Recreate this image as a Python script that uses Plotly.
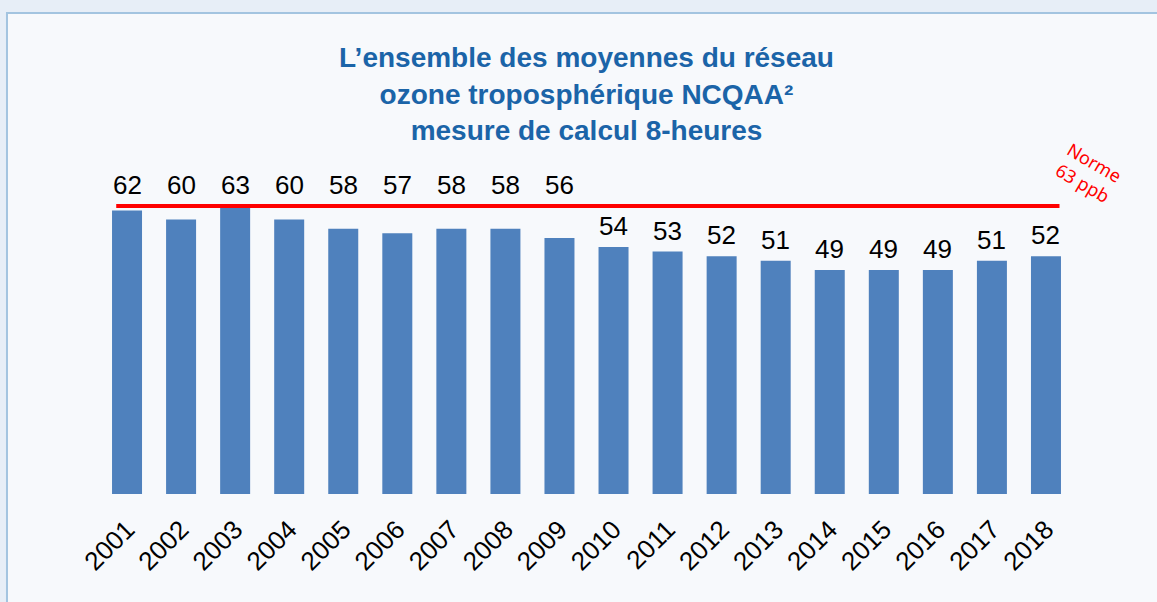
import plotly.graph_objects as go

years = [str(y) for y in range(2001, 2019)]
ozone_ppb = [62, 60, 63, 60, 58, 57, 58, 58, 56, 54, 53, 52, 51, 49, 49, 49, 51, 52]
norm_ppb = 63
norm_label = "Norme<br>63 ppb"
title_text = ("L’ensemble des moyennes du réseau<br>"
              "ozone troposphérique NCQAA²<br>"
              "mesure de calcul 8-heures")

font_main = "Arial, Liberation Sans, sans-serif"
bar_color = "#4f81bd"
title_color = "#1b64a8"
outer_bg = "#e7eef7"

fig = go.Figure()
fig.add_trace(go.Bar(x=years, y=ozone_ppb, marker=dict(color=bar_color, line=dict(width=0)),
                     hoverinfo="x+y"))

# light panel behind the chart (runs off the right and bottom edges)
fig.add_shape(type="rect", xref="paper", yref="paper",
              x0=-0.0956, x1=1.10, y0=-0.34, y1=1.402,
              fillcolor="#f7f9fc", line=dict(color="#a3c4e0", width=2), layer="below")

# norm line
fig.add_shape(type="line", xref="x", yref="y", x0=-0.2, x1=17.25, y0=norm_ppb, y1=norm_ppb,
              line=dict(color="#ff0000", width=4))

annotations = []
# value labels: the high ones are lifted above the norm line
# (annotations on a category axis use the category index)
for i, v in enumerate(ozone_ppb):
    y = norm_ppb if v > 55 else v
    annotations.append(dict(x=i, y=y, xref="x", yref="y", text=str(v), showarrow=False,
                            yanchor="middle", yshift=21,
                            font=dict(family=font_main, size=26, color="#000000")))

annotations.append(dict(x=1.016, y=norm_ppb, xref="paper", yref="y", text=norm_label,
                        xanchor="center", yanchor="middle",
                        showarrow=False, textangle=30, yshift=33,
                        font=dict(family="Noto Sans, Open Sans, sans-serif", size=18, color="#ff0000")))

fig.update_layout(
    width=1157, height=602,
    margin=dict(l=100, r=84, t=151, b=108),
    paper_bgcolor=outer_bg,
    plot_bgcolor="rgba(0,0,0,0)",
    bargap=0.445,
    showlegend=False,
    title=dict(text="<b>" + title_text + "</b>", x=0.5, xref="paper", xanchor="center",
               y=0.888, yref="container", yanchor="top",
               font=dict(family=font_main, size=28, color=title_color)),
    xaxis=dict(type="category", range=[-0.5, len(years) - 0.5], autorange=False,
               showgrid=False, zeroline=False, showline=False, tickangle=-45,
               ticklabelstandoff=14,
               tickfont=dict(family=font_main, size=26, color="#000000")),
    yaxis=dict(visible=False, range=[0, 75], autorange=False, showgrid=False, zeroline=False),
    annotations=annotations,
)

fig.write_html("out.html", config={"displayModeBar": False},
               post_script="document.body.style.margin='0';"
                           "document.body.style.background='" + outer_bg + "';")
